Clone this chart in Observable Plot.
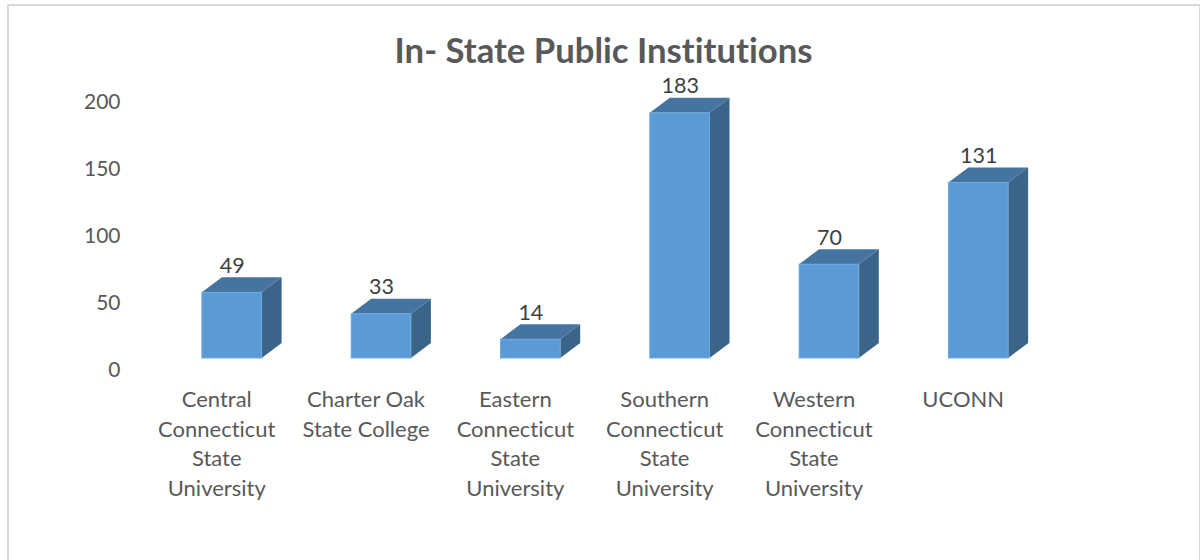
<!DOCTYPE html>
<html>
<head>
<meta charset="utf-8">
<script src="https://cdn.jsdelivr.net/npm/d3@7"></script>
<script src="https://cdn.jsdelivr.net/npm/@observablehq/plot@0.6"></script>
<style>
  html, body { margin: 0; padding: 0; background: #fff; }
  body { width: 1200px; height: 560px; overflow: hidden; position: relative; font-variant-ligatures: none; }
  #frame { position: absolute; left: 7px; top: 4px; width: 1190px; height: 556px;
           border: 2px solid #d9d9d9; border-bottom: none; pointer-events: none; }
  #title { height: 70px; box-sizing: border-box; padding-top: 28px; width: 1207px; text-align: center;
           font: bold 34.7px/44px Lato, sans-serif; font-variant-ligatures: none; color: #595959; white-space: nowrap; }
  #chart svg { display: block; font-variant-ligatures: none; }
</style>
</head>
<body>
<div id="frame"></div>
<div id="title">In- State Public Institutions</div>
<div id="chart"></div>
<script>
const categories = [
  "Central\nConnecticut\nState\nUniversity",
  "Charter Oak\nState College",
  "Eastern\nConnecticut\nState\nUniversity",
  "Southern\nConnecticut\nState\nUniversity",
  "Western\nConnecticut\nState\nUniversity",
  "UCONN"
];
const values = [49, 33, 14, 183, 70, 131];
const yTicks = [0, 50, 100, 150, 200];

const table = categories.map((c, i) => ({category: c, value: values[i]}));
const depthX = 20, depthY = 15;

const faces = (index, scales, vals, dimensions, context, next) => {
  const group = d3.create("svg:g");
  const w = typeof scales.x.bandwidth === "function" ? scales.x.bandwidth() : scales.scales.x.bandwidth;
  for (const i of index) {
    const x0 = scales.x(table[i].category), x1 = x0 + w;
    const yT = scales.y(table[i].value), yB = scales.y(0);
    group.append("polygon")
      .attr("points", [[x1, yB], [x1 + depthX, yB - depthY], [x1 + depthX, yT - depthY], [x1, yT]].join(" "))
      .attr("fill", "#3a6488");
    group.append("polygon")
      .attr("points", [[x0, yT], [x0 + depthX, yT - depthY], [x1 + depthX, yT - depthY], [x1, yT]].join(" "))
      .attr("fill", "#44749f");
  }
  group.append(() => next(index, scales, vals, dimensions, context));
  return group.node();
};

const chart = Plot.plot({
  width: 1200,
  height: 490,
  marginLeft: 120,
  marginTop: 0,
  marginRight: 0,
  marginBottom: 0,
  style: {background: "transparent", overflow: "visible"},
  x: {domain: categories, range: [112.3, 1097.7], padding: 0.6, align: 0.5, round: false, axis: null},
  y: {domain: [0, 200], range: [288, 20], label: null},
  marks: [
    Plot.axisY(yTicks, {
      tickSize: 0, tickPadding: 0, dy: 12, label: null,
      fontSize: 21, fontFamily: "Lato, sans-serif", fill: "#595959"
    }),
    Plot.barY(table, {
      x: "category", y: "value", fill: "#5b9bd5",
      stroke: "#6fa8dc", strokeWidth: 1, render: faces
    }),
    Plot.text(table, {
      x: "category", y: "value", text: d => String(d.value),
      dy: -27, fontSize: 21.5, fontFamily: "Lato, sans-serif", fill: "#404040"
    }),
    Plot.text(table, {
      x: "category", y: () => 0, text: "category", dx: -15.5, dy: 28,
      lineAnchor: "top", lineHeight: 1.34, fontSize: 22,
      fontFamily: "Lato, sans-serif", fill: "#595959"
    })
  ]
});
document.getElementById("chart").appendChild(chart);
</script>
</body>
</html>
